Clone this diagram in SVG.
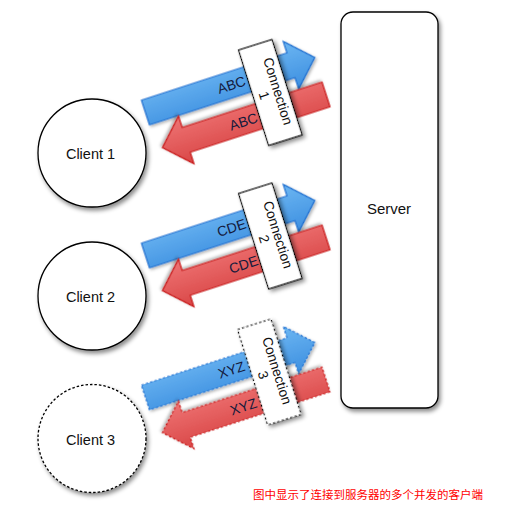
<svg xmlns="http://www.w3.org/2000/svg" width="505" height="506" viewBox="0 0 505 506">
<defs>
<filter id="sh" x="-20%" y="-20%" width="150%" height="150%"><feDropShadow dx="2" dy="3" stdDeviation="2" flood-color="#000" flood-opacity="0.45"/></filter>
<filter id="sha" x="-20%" y="-30%" width="150%" height="170%"><feDropShadow dx="1" dy="2" stdDeviation="1.5" flood-color="#000" flood-opacity="0.3"/></filter>
<linearGradient id="gb" x1="0" y1="0" x2="0" y2="1"><stop offset="0" stop-color="#6cb6f2"/><stop offset="1" stop-color="#3d8fe0"/></linearGradient>
<linearGradient id="gr" x1="0" y1="1" x2="0" y2="0"><stop offset="0" stop-color="#ee7474"/><stop offset="1" stop-color="#d94646"/></linearGradient>
<polygon id="ab" points="0,-13 153,-13 153,-25 178,0 153,25 153,13 0,13"/>
<polygon id="ar" points="0,-13 147,-13 147,-25 172,0 147,25 147,13 0,13"/>
</defs>
<style>
text{font-family:"Liberation Sans",Arial,sans-serif;font-size:14px;fill:#111}
.big{font-size:14.5px}
.srv{font-size:15px}
.lbl{fill:#141a3c}
.cn{font-size:13.8px}
.node{fill:#fff;stroke:#000;stroke-width:1.3}
.dash{stroke-dasharray:2.5,2}
.blue{fill:url(#gb);stroke:#1f6fd0;stroke-width:1.2;filter:url(#sha)}
.red{fill:url(#gr);stroke:#c81818;stroke-width:1.2;filter:url(#sha)}
.box{fill:#fff;stroke:#000;stroke-width:1.2}
.cap{font-family:"Noto Sans CJK SC",sans-serif;font-size:11.5px;fill:#f00}
</style>
<g id="server">
<rect class="node" x="341" y="12" width="97" height="396" rx="12" filter="url(#sh)"/>
<text class="srv" x="389" y="214" text-anchor="middle">Server</text>
</g>
<g id="client1">
<circle class="node" cx="92" cy="153" r="54" filter="url(#sh)"/>
<text class="big" x="90.5" y="159" text-anchor="middle">Client 1</text>
</g>
<g id="client2">
<circle class="node" cx="92" cy="296" r="54" filter="url(#sh)"/>
<text class="big" x="90.5" y="302" text-anchor="middle">Client 2</text>
</g>
<g id="client3">
<circle class="node dash" cx="92" cy="438.5" r="54" filter="url(#sh)"/>
<text class="big" x="90.5" y="444.5" text-anchor="middle">Client 3</text>
</g>
<g id="connectors">
<use href="#ab" class="blue" transform="translate(145.5,112.5) rotate(-18)"/>
<use href="#ar" class="red" transform="translate(326,94.5) rotate(162)"/>
<text class="lbl" transform="translate(231.5,84.7) rotate(-18)" y="5" text-anchor="middle">ABC</text>
<text class="lbl" transform="translate(243.5,121.5) rotate(-18)" y="5" text-anchor="middle">ABC</text>
<use href="#ab" class="blue" transform="translate(145.5,255.5) rotate(-18)"/>
<use href="#ar" class="red" transform="translate(326,237.5) rotate(162)"/>
<text class="lbl" transform="translate(231.5,227.7) rotate(-18)" y="5" text-anchor="middle">CDE</text>
<text class="lbl" transform="translate(243.5,264.5) rotate(-18)" y="5" text-anchor="middle">CDE</text>
<use href="#ab" class="blue dash" transform="translate(145.5,397.5) rotate(-18)"/>
<use href="#ar" class="red dash" transform="translate(326,379.5) rotate(162)"/>
<text class="lbl" transform="translate(231.5,369.7) rotate(-18)" y="5" text-anchor="middle">XYZ</text>
<text class="lbl" transform="translate(243.5,406.5) rotate(-18)" y="5" text-anchor="middle">XYZ</text>
</g>
<g id="connection1" transform="translate(270.3,92.5) rotate(-17.5)">
<rect class="box" x="-17.5" y="-50" width="35" height="100" filter="url(#sh)"/>
<text class="cn" transform="rotate(90)" text-anchor="middle"><tspan x="1" y="-3">Connection</tspan><tspan x="1" y="11.5">1</tspan></text>
</g>
<g id="connection2" transform="translate(270.3,236) rotate(-17.5)">
<rect class="box" x="-17.5" y="-50" width="35" height="100" filter="url(#sh)"/>
<text class="cn" transform="rotate(90)" text-anchor="middle"><tspan x="1" y="-3">Connection</tspan><tspan x="1" y="11.5">2</tspan></text>
</g>
<g id="connection3" transform="translate(269.3,372) rotate(-17.5)">
<rect class="box dash" x="-17.5" y="-50" width="35" height="100" filter="url(#sh)"/>
<text class="cn" transform="rotate(90)" text-anchor="middle"><tspan x="1" y="-3">Connection</tspan><tspan x="1" y="11.5">3</tspan></text>
</g>
<text class="cap" x="253" y="498.5">图中显示了连接到服务器的多个并发的客户端</text>
</svg>
